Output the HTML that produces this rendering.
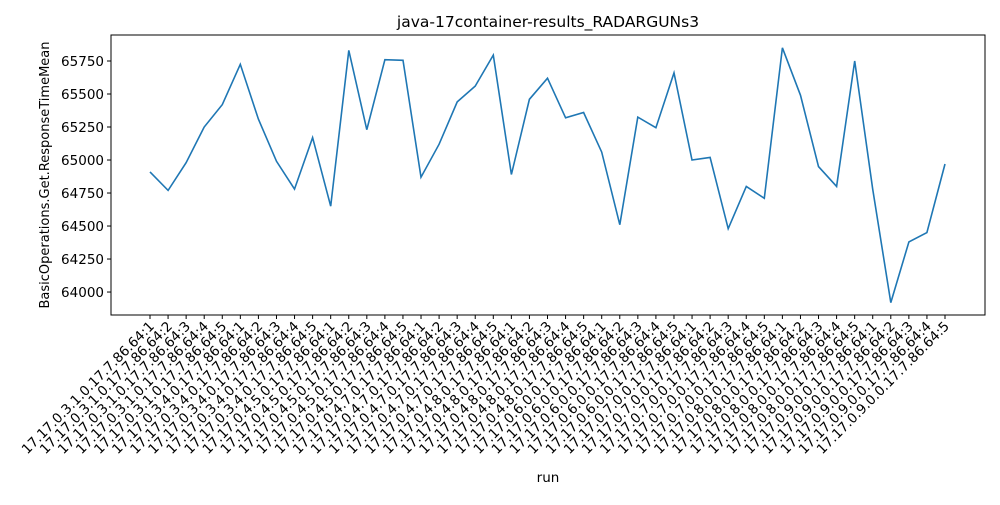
<!DOCTYPE html>
<html><head><meta charset="utf-8"><style>
body{margin:0;background:#fff;font-family:"Liberation Sans","DejaVu Sans",sans-serif}
text{font-family:"DejaVu Sans","Liberation Sans",sans-serif}
</style></head><body>
<svg id="chart" width="1000" height="500" xmlns="http://www.w3.org/2000/svg">
<rect width="1000" height="500" fill="#fff"/>
<text x="548" y="27" font-size="15.5" text-anchor="middle">java-17container-results_RADARGUNs3</text>
<text x="548" y="482" font-size="13.5" text-anchor="middle">run</text>
<text transform="translate(49,175) rotate(-90)" font-size="13" text-anchor="middle">BasicOperations.Get.ResponseTimeMean</text>
<g id="ticks"></g>
<path id="line" fill="none" stroke="#1f77b4" stroke-width="1.6"/>
<rect x="111" y="35" width="874" height="280" fill="none" stroke="#000" stroke-width="1"/>
</svg>
<script>
const groups=["0.3.1","0.3.4","0.4.5","0.4.7","0.4.8","0.6.0","0.7.0","0.8.0","0.9.0"];
const runs=[1,2,3,4,5];
const values=[64910,64770,64980,65250,65420,65725,65310,64990,64780,65170,64650,65830,65230,65760,65755,64870,65120,65440,65560,65795,64890,65460,65620,65320,65360,65060,64510,65325,65245,65660,65000,65020,64480,64800,64710,65850,65490,64950,64800,65750,64780,63920,64380,64450,64970];
const yTicks=[64000,64250,64500,64750,65000,65250,65500,65750];
const categories=[];
groups.forEach(g=>runs.forEach(r=>categories.push("17.17."+g+".0.17.7.86.64:"+r)));
const NS="http://www.w3.org/2000/svg";
const x0=150,x1=945,yMin=63826,yMax=65947,yTop=35,yBot=315;
const xs=i=>x0+(x1-x0)*i/(categories.length-1);
const ys=v=>yBot-(v-yMin)/(yMax-yMin)*(yBot-yTop);
const tg=document.getElementById('ticks');
yTicks.forEach(t=>{
 const y=ys(t);
 const l=document.createElementNS(NS,'line');
 
 
 l.setAttribute('x1',107);l.setAttribute('x2',111);l.setAttribute('y1',y);l.setAttribute('y2',y);l.setAttribute('stroke','#000');
 tg.appendChild(l);
 const tx=document.createElementNS(NS,'text');
 
 
 tx.setAttribute('x',104);tx.setAttribute('y',y+5);tx.setAttribute('font-size','13.5');tx.setAttribute('text-anchor','end');
 tx.textContent=t;tg.appendChild(tx);
});
categories.forEach((c,i)=>{
 const x=xs(i);
 const l=document.createElementNS(NS,'line');
 
 
 l.setAttribute('x1',x);l.setAttribute('x2',x);l.setAttribute('y1',315);l.setAttribute('y2',319);l.setAttribute('stroke','#000');
 tg.appendChild(l);
 const tx=document.createElementNS(NS,'text');
 
 
 tx.setAttribute('transform','translate('+(x+5)+',327) rotate(-45)');
 tx.setAttribute('font-size','13.5');tx.setAttribute('text-anchor','end');
 tx.textContent=c;tg.appendChild(tx);
});
document.getElementById('line').setAttribute('d',values.map((v,i)=>(i?'L':'M')+xs(i).toFixed(1)+','+ys(v).toFixed(1)).join(''));
</script>
</body></html>
